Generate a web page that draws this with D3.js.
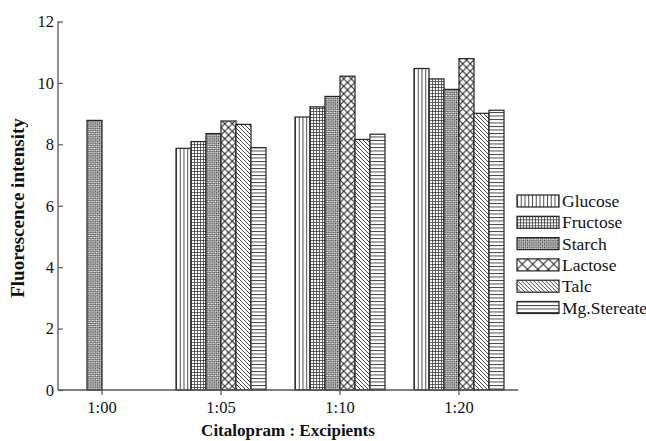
<!DOCTYPE html>
<html>
<head>
<meta charset="utf-8">
<script src="https://cdn.jsdelivr.net/npm/d3@7"></script>
<style>
  html, body { margin: 0; padding: 0; background: #fff; }
  svg { display: block; }
  text { font-family: "Liberation Serif", "Times New Roman", serif; fill: #111; }
</style>
</head>
<body>
<svg id="chart" width="646" height="441"></svg>
<script>
// Ratio groups along the x axis
const categories = ["1:00", "1:05", "1:10", "1:20"];
// Excipient series (legend order)
const seriesNames = ["Glucose", "Fructose", "Starch", "Lactose", "Talc", "Mg.Stereate"];
// Fluorescence intensity per ratio group (null = not measured)
const glucose    = [null, 7.87, 8.89, 10.47];
const fructose   = [null, 8.09, 9.22, 10.13];
const starch     = [8.78, 8.35, 9.56, 9.79];
const lactose    = [null, 8.76, 10.22, 10.79];
const talc       = [null, 8.65, 8.16, 9.01];
const mgStereate = [null, 7.89, 8.33, 9.11];
const yTicks = [0, 2, 4, 6, 8, 10, 12];

const seriesValues = [glucose, fructose, starch, lactose, talc, mgStereate];
const patternKeys = ["vert", "grid", "check", "diamond", "diag", "horiz"];

const svg = d3.select("#chart");
const defs = svg.append("defs");
const INK = "#222";
const HATCH = "#333";

// Hatch fill patterns; the lactose diamonds are drawn larger in the legend
function makePatterns(prefix, diamond) {
  const p = (id, w, h) => defs.append("pattern")
    .attr("id", prefix + id).attr("patternUnits", "userSpaceOnUse")
    .attr("width", w).attr("height", h);
  let g;
  g = p("vert", 3.75, 4);
  g.append("rect").attr("width", 3.75).attr("height", 4).attr("fill", "#fff");
  g.append("line").attr("x1", 0.5).attr("x2", 0.5).attr("y1", 0).attr("y2", 4).attr("stroke", HATCH).attr("stroke-width", 0.9);

  g = p("grid", 3, 3);
  g.append("rect").attr("width", 3).attr("height", 3).attr("fill", "#fff");
  g.append("line").attr("x1", 0.5).attr("x2", 0.5).attr("y1", 0).attr("y2", 3).attr("stroke", HATCH).attr("stroke-width", 0.75);
  g.append("line").attr("x1", 0).attr("x2", 3).attr("y1", 0.5).attr("y2", 0.5).attr("stroke", HATCH).attr("stroke-width", 0.75);

  g = p("check", 3, 3).attr("patternTransform", "rotate(45)");
  g.append("rect").attr("width", 3).attr("height", 3).attr("fill", "#fff");
  g.append("rect").attr("width", 1.5).attr("height", 1.5).attr("fill", HATCH);
  g.append("rect").attr("x", 1.5).attr("y", 1.5).attr("width", 1.5).attr("height", 1.5).attr("fill", HATCH);

  g = p("diamond", diamond, diamond);
  g.append("rect").attr("width", diamond).attr("height", diamond).attr("fill", "#fff");
  g.append("path").attr("d", `M0,0L${diamond},${diamond}M${diamond},0L0,${diamond}`)
    .attr("stroke", INK).attr("stroke-width", 1.1);

  g = p("diag", 4, 4);
  g.append("rect").attr("width", 4).attr("height", 4).attr("fill", "#fff");
  g.append("path").attr("d", "M0,0L4,4M-1,3L1,5M3,-1L5,1").attr("stroke", HATCH).attr("stroke-width", 0.9);

  g = p("horiz", 4, 3.5);
  g.append("rect").attr("width", 4).attr("height", 3.5).attr("fill", "#fff");
  g.append("line").attr("x1", 0).attr("x2", 4).attr("y1", 0.5).attr("y2", 0.5).attr("stroke", HATCH).attr("stroke-width", 0.9);
}
makePatterns("bar-", 7.5);
makePatterns("leg-", 10.5);

// Scales
const axisLeftX = 58, axisRightX = 518;
const y = d3.scaleLinear().domain([0, 12]).range([390, 21.5]);
const x0 = d3.scaleBand().domain(categories).range([42.5, 518.5])
  .paddingInner(29 / 119).paddingOuter(14.5 / 119);
const x1 = d3.scaleBand().domain(seriesNames).range([0, x0.bandwidth()]);

// Bars
const groups = svg.append("g").selectAll("g")
  .data(categories).join("g")
  .attr("transform", d => `translate(${x0(d)},0)`);

groups.selectAll("rect")
  .data((c, ci) => seriesNames.map((s, si) => ({ s, si, v: seriesValues[si][ci] }))
    .filter(d => d.v != null))
  .join("rect")
  .attr("x", d => x1(d.s))
  .attr("width", x1.bandwidth())
  .attr("y", d => y(d.v))
  .attr("height", d => y(0) - y(d.v))
  .attr("fill", d => `url(#bar-${patternKeys[d.si]})`)
  .attr("stroke", INK)
  .attr("stroke-width", 1.2);

// Axes
const AXIS = "#555";
const yAxis = svg.append("g")
  .attr("transform", `translate(${axisLeftX},0)`)
  .call(d3.axisLeft(y).tickValues(yTicks).tickSize(-5).tickPadding(4).tickFormat(d3.format("d")));
yAxis.select(".domain").remove();
yAxis.selectAll(".tick line").attr("stroke", AXIS).attr("stroke-width", 1.2);
yAxis.selectAll("text").attr("font-size", 16.5).attr("fill", "#111");
svg.append("line")
  .attr("x1", axisLeftX).attr("x2", axisLeftX)
  .attr("y1", y(0)).attr("y2", y(12))
  .attr("stroke", AXIS).attr("stroke-width", 1.3);

const xAxis = svg.append("g")
  .attr("transform", `translate(0,${y(0)})`)
  .call(d3.axisBottom(x0).tickSize(5).tickPadding(6));
xAxis.select(".domain").remove();
xAxis.selectAll(".tick line").attr("stroke", AXIS).attr("stroke-width", 1.2);
xAxis.selectAll("text").attr("font-size", 16.5).attr("fill", "#111");
svg.append("line")
  .attr("x1", axisLeftX).attr("x2", axisRightX)
  .attr("y1", y(0)).attr("y2", y(0))
  .attr("stroke", AXIS).attr("stroke-width", 1.3);

// Axis titles
svg.append("text")
  .attr("x", 288).attr("y", 436)
  .attr("text-anchor", "middle").attr("font-weight", "bold").attr("font-size", 17)
  .text("Citalopram : Excipients");

svg.append("text")
  .attr("transform", `translate(24,208) rotate(-90)`)
  .attr("text-anchor", "middle").attr("font-weight", "bold").attr("font-size", 19)
  .text("Fluorescence intensity");

// Legend
const legend = svg.append("g").attr("transform", "translate(517,195)");
const row = legend.selectAll("g").data(seriesNames).join("g")
  .attr("transform", (d, i) => `translate(0,${i * 21.3})`);
row.append("rect")
  .attr("width", 42).attr("height", 12)
  .attr("fill", (d, i) => `url(#leg-${patternKeys[i]})`)
  .attr("stroke", INK).attr("stroke-width", 1.2);
row.append("text")
  .attr("x", 45).attr("y", 6).attr("dy", "0.35em")
  .attr("font-size", 17.5)
  .text(d => d);
</script>
</body>
</html>
